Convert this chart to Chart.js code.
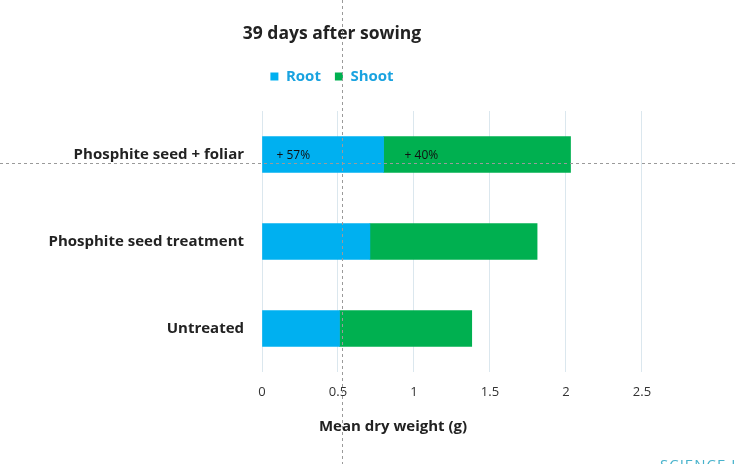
<!DOCTYPE html>
<html>
<head>
<meta charset="utf-8">
<script src="https://cdn.jsdelivr.net/npm/chart.js@4/dist/chart.umd.min.js"></script>
<style>
  html, body { margin: 0; padding: 0; background: #fff; }
  #wrap { position: relative; width: 737px; height: 464px; }
</style>
</head>
<body>
<div id="wrap"><canvas id="dryWeightChart" width="737" height="464"></canvas></div>
<script>
// data
const categories = ['Phosphite seed + foliar', 'Phosphite seed treatment', 'Untreated'];
const rootValues = [0.80, 0.71, 0.51];
const shootValues = [1.23, 1.10, 0.87];
const rootNotes = ['+ 57%', '', ''];
const shootNotes = ['+ 40%', '', ''];
const xTicks = [0, 0.5, 1, 1.5, 2, 2.5];

const FONT = "'Open Sans', sans-serif";

// more room under the legend, like on the slide
const legendGapPlugin = {
    id: 'legendGap',
    beforeInit(chart) {
        const origFit = chart.legend.fit;
        chart.legend.fit = function () {
            origFit.call(this);
            this.height += 17;
        };
    }
};

// labels inside the top bars, the guide lines and the cut-off footer text
const extrasPlugin = {
    id: 'extras',
    afterDatasetsDraw(chart) {
        const ctx = chart.ctx;
        ctx.save();
        ctx.font = "12px " + FONT;
        ctx.fillStyle = '#111';
        ctx.textBaseline = 'middle';
        ctx.textAlign = 'left';
        chart.getDatasetMeta(0).data.forEach((bar, i) => {
            if (rootNotes[i]) ctx.fillText(rootNotes[i], bar.base + 14, bar.y + 1);
        });
        chart.getDatasetMeta(1).data.forEach((bar, i) => {
            if (shootNotes[i]) ctx.fillText(shootNotes[i], bar.base + 21, bar.y + 1);
        });

        // axis caption
        ctx.font = "bold 15px " + FONT;
        ctx.fillStyle = '#222';
        ctx.textAlign = 'center';
        ctx.fillText('Mean dry weight (g)', 393, 427);

        // guide lines
        ctx.strokeStyle = '#9a9a9a';
        ctx.lineWidth = 1;
        ctx.setLineDash([3, 3]);
        ctx.beginPath();
        ctx.moveTo(342.5, 0);
        ctx.lineTo(342.5, chart.height);
        ctx.moveTo(0, 163.5);
        ctx.lineTo(chart.width, 163.5);
        ctx.stroke();
        ctx.setLineDash([]);

        ctx.font = "15px " + FONT;
        ctx.fillStyle = '#49b3cc';
        ctx.textAlign = 'left';
        ctx.textBaseline = 'alphabetic';
        ctx.letterSpacing = '1px';
        ctx.fillText('SCIENCE IN', 660, 470);
        ctx.restore();
    }
};

new Chart(document.getElementById('dryWeightChart'), {
    type: 'bar',
    data: {
        labels: categories,
        datasets: [
            { label: 'Root', data: rootValues, backgroundColor: '#00b0f0', barThickness: 36 },
            { label: 'Shoot', data: shootValues, backgroundColor: '#00b050', barThickness: 36 }
        ]
    },
    options: {
        indexAxis: 'y',
        responsive: false,
        animation: false,
        layout: { padding: { top: 0, right: 73, bottom: 20, left: 0 } },
        plugins: {
            title: {
                display: true,
                text: '39 days after sowing',
                color: '#222',
                font: { family: FONT, size: 17.5, weight: 'bold' },
                padding: { top: 24, bottom: 10 }
            },
            legend: {
                display: true,
                labels: {
                    color: '#1aa3e0',
                    font: { family: FONT, size: 15, weight: 'bold' },
                    boxWidth: 8,
                    boxHeight: 8,
                    padding: 14
                }
            },
            tooltip: { enabled: false }
        },
        scales: {
            x: {
                stacked: true,
                min: 0,
                max: 2.645,
                afterBuildTicks: (scale) => { scale.ticks = xTicks.map(v => ({ value: v })); },
                afterFit: (scale) => { scale.height = 72; },
                grid: { color: '#dbe7ee', drawTicks: false },
                border: { display: false },
                ticks: {
                    color: '#333',
                    font: { family: FONT, size: 13 },
                    padding: 12,
                    maxRotation: 0,
                    callback: (v) => String(v)
                }
            },
            y: {
                stacked: true,
                afterFit: (scale) => { scale.width = 262; },
                grid: { display: false, drawTicks: false },
                border: { display: false },
                ticks: {
                    color: '#222',
                    font: { family: FONT, size: 15, weight: 'bold' },
                    padding: 18
                }
            }
        }
    },
    plugins: [legendGapPlugin, extrasPlugin]
});
</script>
</body>
</html>
